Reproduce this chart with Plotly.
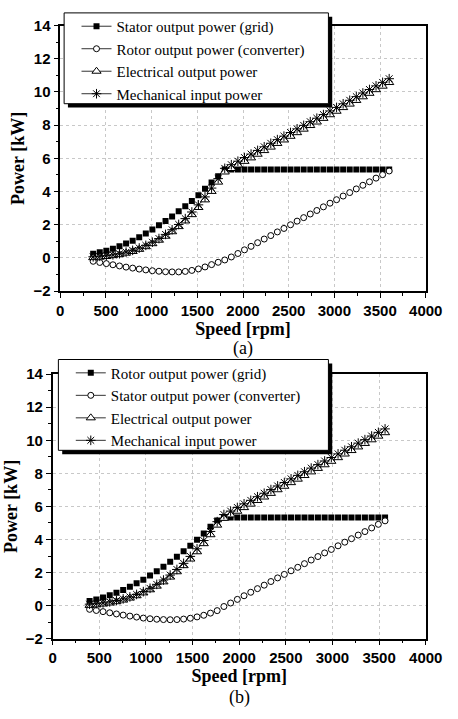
import plotly.graph_objects as go

W, H = 458, 719

# ---------------- data (a) ----------------
speed_a = [360, 432, 504, 576, 648, 720, 792, 864, 936, 1008, 1080, 1152, 1224, 1296, 1368, 1440,
           1512, 1584, 1656, 1728, 1800, 1872, 1944, 2016, 2088, 2160, 2232, 2304, 2376, 2448, 2520,
           2592, 2664, 2736, 2808, 2880, 2952, 3024, 3096, 3168, 3240, 3312, 3384, 3456, 3528, 3600]
stator_a = [0.26, 0.34, 0.44, 0.56, 0.71, 0.87, 1.04, 1.25, 1.47, 1.71, 1.97, 2.23, 2.50, 2.81, 3.12,
            3.44, 3.78, 4.17, 4.55, 4.93, 5.33, 5.33, 5.33, 5.33, 5.33, 5.33, 5.33, 5.33, 5.33, 5.33,
            5.33, 5.33, 5.33, 5.33, 5.33, 5.33, 5.33, 5.33, 5.33, 5.33, 5.33, 5.33, 5.33, 5.33, 5.33, 5.33]
rotor_a = [-0.20, -0.27, -0.34, -0.41, -0.48, -0.55, -0.61, -0.67, -0.72, -0.77, -0.80, -0.83, -0.84,
           -0.84, -0.81, -0.75, -0.66, -0.54, -0.40, -0.26, -0.12, 0.06, 0.27, 0.49, 0.70, 0.92, 1.14,
           1.35, 1.57, 1.78, 2.00, 2.22, 2.43, 2.65, 2.86, 3.08, 3.30, 3.51, 3.73, 3.94, 4.16, 4.38,
           4.59, 4.81, 5.02, 5.24]
elec_a = [0.02, 0.05, 0.09, 0.14, 0.20, 0.29, 0.39, 0.52, 0.68, 0.86, 1.07, 1.31, 1.58, 1.89, 2.23,
          2.61, 3.04, 3.50, 4.01, 4.57, 5.18, 5.39, 5.60, 5.82, 6.03, 6.25, 6.47, 6.68, 6.90, 7.11,
          7.33, 7.55, 7.76, 7.98, 8.19, 8.41, 8.63, 8.84, 9.06, 9.27, 9.49, 9.71, 9.92, 10.14, 10.35, 10.57]
mech_a = [0.07, 0.10, 0.14, 0.19, 0.26, 0.35, 0.46, 0.60, 0.76, 0.95, 1.17, 1.42, 1.70, 2.02, 2.37,
          2.77, 3.20, 3.68, 4.21, 4.78, 5.40, 5.62, 5.83, 6.05, 6.26, 6.48, 6.70, 6.91, 7.13, 7.34,
          7.56, 7.78, 7.99, 8.21, 8.42, 8.64, 8.86, 9.07, 9.29, 9.50, 9.72, 9.94, 10.15, 10.37, 10.58, 10.80]
names_a = ["Stator output power (grid)", "Rotor output power (converter)",
           "Electrical output power", "Mechanical input power"]

# ---------------- data (b) ----------------
speed_b = [396, 468, 540, 612, 684, 756, 828, 900, 972, 1044, 1116, 1188, 1260, 1332, 1404, 1476,
           1548, 1620, 1692, 1764, 1836, 1908, 1980, 2052, 2124, 2196, 2268, 2340, 2412, 2484, 2556,
           2628, 2700, 2772, 2844, 2916, 2988, 3060, 3132, 3204, 3276, 3348, 3420, 3492, 3564]
rotor_grid_b = [0.29, 0.38, 0.49, 0.63, 0.78, 0.95, 1.14, 1.35, 1.57, 1.82, 2.08, 2.35, 2.65, 2.96,
                3.29, 3.63, 3.99, 4.37, 4.77, 5.15, 5.33, 5.33, 5.33, 5.33, 5.33, 5.33, 5.33, 5.33,
                5.33, 5.33, 5.33, 5.33, 5.33, 5.33, 5.33, 5.33, 5.33, 5.33, 5.33, 5.33, 5.33, 5.33,
                5.33, 5.33, 5.33]
stator_conv_b = [-0.22, -0.29, -0.36, -0.43, -0.50, -0.57, -0.63, -0.69, -0.75, -0.79, -0.82, -0.84,
                 -0.85, -0.84, -0.81, -0.76, -0.68, -0.58, -0.45, -0.30, -0.05, 0.16, 0.38, 0.60,
                 0.81, 1.03, 1.24, 1.46, 1.68, 1.89, 2.11, 2.32, 2.54, 2.76, 2.97, 3.19, 3.40, 3.62,
                 3.84, 4.05, 4.27, 4.48, 4.70, 4.92, 5.13]
elec_b = [0.02, 0.05, 0.10, 0.16, 0.24, 0.34, 0.46, 0.60, 0.77, 0.96, 1.18, 1.44, 1.73, 2.05, 2.42,
          2.82, 3.26, 3.75, 4.29, 4.87, 5.28, 5.49, 5.71, 5.93, 6.14, 6.36, 6.57, 6.79, 7.01, 7.22,
          7.44, 7.65, 7.87, 8.09, 8.30, 8.52, 8.73, 8.95, 9.17, 9.38, 9.60, 9.81, 10.03, 10.25, 10.46]
mech_b = [0.09, 0.12, 0.17, 0.23, 0.31, 0.41, 0.53, 0.68, 0.85, 1.05, 1.29, 1.55, 1.85, 2.19, 2.56,
          2.98, 3.44, 3.94, 4.49, 5.08, 5.51, 5.72, 5.94, 6.16, 6.37, 6.59, 6.80, 7.02, 7.24, 7.45,
          7.67, 7.88, 8.10, 8.32, 8.53, 8.75, 8.96, 9.18, 9.40, 9.61, 9.83, 10.04, 10.26, 10.48, 10.69]
names_b = ["Rotor output power (grid)", "Stator output power (converter)",
           "Electrical output power", "Mechanical input power"]

x_ticks = [0, 500, 1000, 1500, 2000, 2500, 3000, 3500, 4000]
y_ticks = [-2, 0, 2, 4, 6, 8, 10, 12, 14]

# ---------------- styles ----------------
markers = [
    dict(symbol="square", size=6, color="black", line=dict(width=0)),
    dict(symbol="circle", size=6, color="white", line=dict(color="black", width=1)),
    dict(symbol="triangle-up", size=8, color="white", line=dict(color="black", width=1)),
    dict(symbol="asterisk-open", size=8, color="black", line=dict(color="black", width=1)),
]

fig = go.Figure()

def add_panel(speed, series, names, xa, ya, legend):
    for s, m in zip(series, markers):
        fig.add_trace(go.Scatter(x=speed, y=s, mode="markers", marker=m,
                                 xaxis=xa, yaxis=ya, showlegend=False, hoverinfo="x+y"))
    for n, m in zip(names, markers):
        fig.add_trace(go.Scatter(x=[None], y=[None], mode="lines+markers", name=n, marker=m,
                                 line=dict(color="#333333", width=1),
                                 xaxis=xa, yaxis=ya, legend=legend))

add_panel(speed_a, [stator_a, rotor_a, elec_a, mech_a], names_a, "x", "y", "legend")
add_panel(speed_b, [rotor_grid_b, stator_conv_b, elec_b, mech_b], names_b, "x2", "y2", "legend2")

def px(x): return x / W
def py(y): return 1 - y / H

tickfont = dict(family="Liberation Sans", size=15, color="black", weight="bold")
titlefont = dict(family="Liberation Serif", size=18, color="black", weight="bold")

def xaxis(domain, anchor):
    return dict(domain=domain, anchor=anchor, range=[0, 4000], tickvals=x_ticks,
                ticks="outside", ticklen=5, tickwidth=1, tickcolor="black",
                minor=dict(dtick=250, ticks="outside", ticklen=3, tickcolor="black", showgrid=False),
                showline=True, linecolor="black", linewidth=1.5, mirror=True,
                showgrid=True, gridcolor="#c8c8c8", griddash="dot", gridwidth=1,
                zeroline=False, tickfont=tickfont, ticklabeloverflow="allow",
                title=dict(text="Speed [rpm]", font=titlefont, standoff=0))

def yaxis(domain, anchor):
    return dict(domain=domain, anchor=anchor, range=[-2, 14], tickvals=y_ticks,
                ticks="outside", ticklen=5, tickwidth=1, tickcolor="black",
                minor=dict(dtick=1, ticks="outside", ticklen=3, tickcolor="black", showgrid=False),
                showline=True, linecolor="black", linewidth=1.5, mirror=True,
                showgrid=True, gridcolor="#c8c8c8", griddash="dot", gridwidth=1,
                zeroline=False, tickfont=tickfont, ticklabeloverflow="allow",
                title=dict(text="Power [kW]", font=titlefont, standoff=4))

legfont = dict(family="Liberation Serif, Times New Roman, serif", size=15, color="black")

fig.update_layout(
    width=W, height=H, autosize=False,
    font=dict(family="Liberation Serif, Times New Roman, serif", color="black"),
    margin=dict(l=0, r=0, t=0, b=0),
    paper_bgcolor="white", plot_bgcolor="white",
    xaxis=xaxis([px(59), px(442)], "y"),
    yaxis=yaxis([py(289), py(17)], "x"),
    xaxis2=xaxis([px(51), px(442)], "y2"),
    yaxis2=yaxis([py(645), py(374)], "x2"),
    legend=dict(x=px(76), y=py(1), xanchor="left", yanchor="top", font=legfont,
                bgcolor="rgba(0,0,0,0)", borderwidth=0),
    legend2=dict(x=px(70), y=py(356), xanchor="left", yanchor="top", font=legfont,
                 bgcolor="rgba(0,0,0,0)", borderwidth=0),
    showlegend=True,
)

# legend frames with drop shadow
shapes = []
for (x0, y0, x1, y1) in [(63, 4, 340, 97), (57, 359, 340, 452)]:
    shapes.append(dict(type="rect", xref="paper", yref="paper", layer="above",
                       x0=px(x0 + 4), x1=px(x1 + 4), y0=py(y1 + 4), y1=py(y0 + 4),
                       fillcolor="black", line=dict(width=0)))
    shapes.append(dict(type="rect", xref="paper", yref="paper", layer="above",
                       x0=px(x0), x1=px(x1), y0=py(y1), y1=py(y0),
                       fillcolor="white", line=dict(color="black", width=1)))
fig.update_layout(shapes=shapes)

capfont = dict(family="Liberation Serif", size=18, color="black")
fig.add_annotation(text="(a)", x=px(250), y=py(348), xref="paper", yref="paper",
                   showarrow=False, font=capfont, xanchor="center", yanchor="middle")
fig.add_annotation(text="(b)", x=px(247), y=py(705), xref="paper", yref="paper",
                   showarrow=False, font=capfont, xanchor="center", yanchor="middle")

fig.write_html("out.html")
